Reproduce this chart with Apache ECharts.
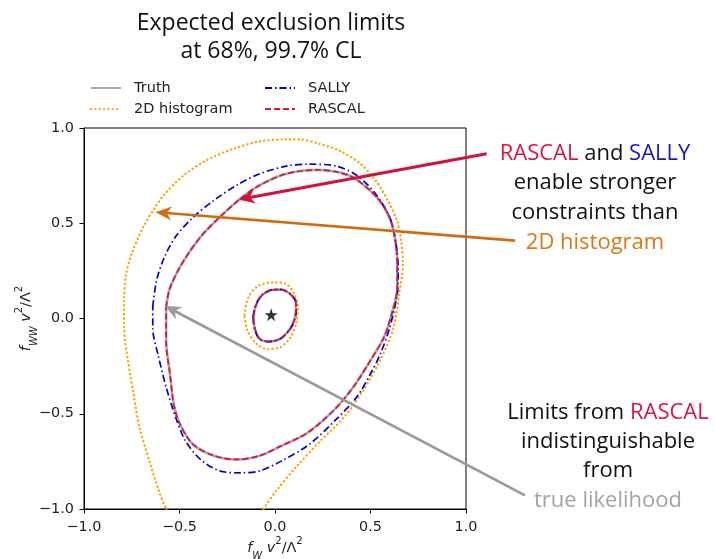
<!DOCTYPE html>
<html>
<head>
<meta charset="utf-8">
<script src="https://cdn.jsdelivr.net/npm/echarts@6/dist/echarts.min.js"></script>
<style>html,body{margin:0;padding:0;background:#fff}#c{width:715px;height:559px}</style>
</head>
<body>
<div id="c"></div>
<script>
// ---- data (x = f_W v^2/Λ^2, y = f_WW v^2/Λ^2) ----
const tickValues = [-1.0, -0.5, 0.0, 0.5, 1.0];
const legendNames = ['Truth', '2D histogram', 'SALLY', 'RASCAL'];

const truthOuter = [[-0.57,0.06],[-0.55,0.16],[-0.48,0.30],[-0.38,0.44],[-0.27,0.55],[-0.18,0.63],[-0.08,0.70],[0.06,0.76],[0.22,0.78],[0.32,0.77],[0.41,0.74],[0.53,0.64],[0.60,0.53],[0.63,0.41],[0.64,0.29],[0.64,0.16],[0.61,0.02],[0.57,-0.10],[0.50,-0.22],[0.41,-0.36],[0.31,-0.48],[0.17,-0.60],[0.03,-0.67],[-0.08,-0.72],[-0.20,-0.74],[-0.32,-0.72],[-0.43,-0.66],[-0.50,-0.55],[-0.53,-0.45],[-0.55,-0.29],[-0.57,-0.12],[-0.57,0.06]];
const truthInner = [[-0.113,0.007],[-0.10,0.068],[-0.07,0.12],[-0.026,0.147],[0.026,0.152],[0.079,0.129],[0.11,0.077],[0.105,0.007],[0.079,-0.054],[0.026,-0.107],[-0.035,-0.12],[-0.08,-0.107],[-0.105,-0.054],[-0.113,0.007]];

const rascalOuter = [[-0.57,0.06],[-0.55,0.16],[-0.48,0.30],[-0.38,0.44],[-0.27,0.55],[-0.18,0.63],[-0.08,0.70],[0.06,0.76],[0.22,0.78],[0.32,0.77],[0.41,0.74],[0.53,0.64],[0.60,0.53],[0.63,0.41],[0.64,0.29],[0.64,0.16],[0.61,0.02],[0.57,-0.10],[0.50,-0.22],[0.41,-0.36],[0.31,-0.48],[0.17,-0.60],[0.03,-0.67],[-0.08,-0.72],[-0.20,-0.74],[-0.32,-0.72],[-0.43,-0.66],[-0.50,-0.55],[-0.53,-0.45],[-0.55,-0.29],[-0.57,-0.12],[-0.57,0.06]];
const rascalInner = [[-0.113,0.007],[-0.10,0.068],[-0.07,0.12],[-0.026,0.147],[0.026,0.152],[0.079,0.129],[0.11,0.077],[0.105,0.007],[0.079,-0.054],[0.026,-0.107],[-0.035,-0.12],[-0.08,-0.107],[-0.105,-0.054],[-0.113,0.007]];

const sallyOuter = [[-0.64,0.06],[-0.62,0.20],[-0.58,0.32],[-0.52,0.43],[-0.43,0.53],[-0.32,0.62],[-0.20,0.70],[-0.08,0.76],[0.06,0.80],[0.18,0.81],[0.32,0.80],[0.43,0.75],[0.53,0.65],[0.605,0.52],[0.635,0.38],[0.645,0.25],[0.64,0.13],[0.60,-0.05],[0.55,-0.19],[0.50,-0.29],[0.43,-0.41],[0.32,-0.53],[0.18,-0.66],[0.03,-0.75],[-0.08,-0.80],[-0.18,-0.81],[-0.29,-0.80],[-0.39,-0.74],[-0.47,-0.64],[-0.52,-0.52],[-0.57,-0.36],[-0.61,-0.20],[-0.64,-0.05],[-0.64,0.06]];
const sallyInner = [[-0.115,0.007],[-0.102,0.068],[-0.072,0.12],[-0.027,0.148],[0.026,0.153],[0.08,0.130],[0.112,0.077],[0.107,0.007],[0.080,-0.055],[0.026,-0.108],[-0.036,-0.121],[-0.081,-0.108],[-0.107,-0.055],[-0.115,0.007]];

const histOuter = [[-0.08,-1.04],[-0.06,-1.0],[0.01,-0.90],[0.11,-0.78],[0.24,-0.64],[0.36,-0.52],[0.46,-0.38],[0.55,-0.22],[0.62,-0.05],[0.65,0.13],[0.67,0.29],[0.66,0.41],[0.64,0.51],[0.59,0.62],[0.53,0.72],[0.45,0.81],[0.34,0.88],[0.22,0.92],[0.13,0.94],[0.06,0.94],[-0.08,0.93],[-0.22,0.89],[-0.36,0.83],[-0.48,0.75],[-0.58,0.65],[-0.63,0.58],[-0.69,0.48],[-0.75,0.34],[-0.78,0.23],[-0.79,0.09],[-0.79,-0.05],[-0.77,-0.22],[-0.74,-0.40],[-0.71,-0.57],[-0.66,-0.74],[-0.61,-0.90],[-0.57,-1.0],[-0.55,-1.04]];
const histInner = [[-0.16,0.02],[-0.14,0.11],[-0.09,0.17],[-0.01,0.19],[0.06,0.18],[0.10,0.13],[0.12,0.06],[0.11,-0.03],[0.08,-0.10],[0.03,-0.15],[-0.04,-0.16],[-0.10,-0.13],[-0.145,-0.06],[-0.16,0.02]];

const bestFit = [[-0.02, 0.02]];

// annotation arrows: [tail, head] in data coordinates
const arrowRascal = [[1.108, 0.865], [-0.187, 0.625]];
const arrowHist = [[1.257, 0.409], [-0.623, 0.558]];
const arrowTruth = [[1.309, -0.929], [-0.574, 0.065]];

// ---- styles ----
const C_TRUTH = '#aaaaaa', C_HIST = '#ffa500', C_SALLY = '#0000cd', C_RASCAL = '#dc143c';
const annFont = '"Open Sans", "Noto Sans", sans-serif';
const mplFont = '"DejaVu Sans", sans-serif';
const TICK_FS = 14.4;

const chart = echarts.init(document.getElementById('c'), null, {renderer: 'canvas'});

function fmt(v) { return (v < 0 ? '\u2212' : '') + Math.abs(v).toFixed(1); }

function contour(name, data, color, width, type, z, cap) {
  return {
    name: name, type: 'line', data: data, symbol: 'none', showSymbol: false, smooth: 0.3,
    smoothMonotone: 'none', z: z, animation: false, clip: true,
    lineStyle: {color: color, width: width, type: type, cap: cap || 'butt'},
    itemStyle: {color: color}
  };
}

const axisCommon = {
  type: 'value', min: -1, max: 1, interval: 0.5,
  axisLine: {show: true, onZero: false, lineStyle: {color: '#000', width: 1}},
  axisTick: {show: true, inside: false, length: 4.5, lineStyle: {color: '#000', width: 1}},
  splitLine: {show: false},
  axisLabel: {formatter: fmt, color: '#222', fontFamily: mplFont, fontSize: TICK_FS, margin: 10},
  nameLocation: 'middle',
  nameMoveOverlap: false
};

const richName = {
  i: {fontFamily: mplFont, fontStyle: 'italic', fontSize: 14.4, color: '#222', lineHeight: 20},
  n: {fontFamily: mplFont, fontSize: 14.4, color: '#222', lineHeight: 20},
  s: {fontFamily: mplFont, fontStyle: 'italic', fontSize: 10, color: '#222', lineHeight: 20, verticalAlign: 'bottom', padding: [0,0,-3,0]},
  p: {fontFamily: mplFont, fontSize: 10, color: '#222', lineHeight: 20, verticalAlign: 'top', padding: [-2,0,0,0]}
};

function legendAt(name, left, top) {
  return {data: [name], left: left, top: top, padding: 0, orient: 'vertical', itemWidth: 30, itemHeight: 16, itemGap: 0,
    itemStyle: {opacity: 0, color: 'rgba(0,0,0,0)', borderWidth: 0},
    textStyle: {fontFamily: mplFont, fontSize: 14.5, lineHeight: 16, color: '#222', padding: [0,0,0,8]}, selectedMode: false};
}

const option = {
  backgroundColor: '#fff',
  animation: false,
  grid: {left: 84, top: 128, width: 382, height: 381, show: true, borderColor: '#000', borderWidth: 1,
         backgroundColor: 'transparent', containLabel: false, outerBoundsMode: 'none'},
  xAxis: Object.assign({}, axisCommon, {
    name: '{i|f}{s|W}{n| }{i|v}{p|2}{n|/Λ}{p|2}', nameGap: 29,
    axisLabel: Object.assign({}, axisCommon.axisLabel, {margin: 11}),
    nameTextStyle: {rich: richName}
  }),
  yAxis: Object.assign({}, axisCommon, {
    name: '{i|f}{s|WW}{n| }{i|v}{p|2}{n|/Λ}{p|2}', nameGap: 48, nameRotate: 90,
    nameTextStyle: {rich: richName}
  }),
  legend: [
    legendAt(legendNames[0], 90, 80),
    legendAt(legendNames[1], 90, 101),
    legendAt(legendNames[2], 264, 80),
    legendAt(legendNames[3], 264, 101)
  ],
  series: [
    contour('Truth', truthOuter, C_TRUTH, 2.6, 'solid', 2),
    contour('Truth', truthInner, C_TRUTH, 2.6, 'solid', 2),
    contour('2D histogram', histOuter, C_HIST, 2.2, [0.4, 3.9], 3, 'round'),
    contour('2D histogram', histInner, C_HIST, 2.2, [0.4, 3.9], 3, 'round'),
    contour('SALLY', sallyOuter, C_SALLY, 1.7, [7, 3, 1.5, 3], 4),
    contour('SALLY', sallyInner, C_SALLY, 1.7, [7, 3, 1.5, 3], 4),
    contour('RASCAL', rascalOuter, C_RASCAL, 1.7, [6, 3], 5),
    contour('RASCAL', rascalInner, C_RASCAL, 1.7, [6, 3], 5),
    {type: 'scatter', data: bestFit, symbol: 'path://M50,0 L61.8,35.4 L99,35.4 L69,57.3 L80.4,92.7 L50,70.8 L19.6,92.7 L31,57.3 L1,35.4 L38.2,35.4 Z',
     symbolSize: 13, itemStyle: {color: '#000'}, z: 10, animation: false}
  ],
  graphic: [
    {id: 'title', type: 'text', z: 100,
     style: {text: 'Expected exclusion limits\nat 68%, 99.7% CL', x: 271, y: 37.5, align: 'center', verticalAlign: 'middle',
              fontFamily: annFont, fontSize: 23, lineHeight: 27.5, fill: '#111'}},
    {id: 'ann1', type: 'text', z: 100,
     style: {text: '{r|RASCAL} and {b|SALLY}\nenable stronger\nconstraints than\n{o|2D histogram}', x: 595, y: 198,
             align: 'center', verticalAlign: 'middle', fontFamily: annFont, fontSize: 22, lineHeight: 29.6, fill: '#111',
             rich: {r: {fill: '#d8173f', fontFamily: annFont, fontSize: 22, lineHeight: 29.6},
                    b: {fill: '#1717c8', fontFamily: annFont, fontSize: 22, lineHeight: 29.6},
                    o: {fill: '#db7812', fontFamily: annFont, fontSize: 22, lineHeight: 29.6}}}},
    {id: 'ann2', type: 'text', z: 100,
     style: {text: 'Limits from {r|RASCAL}\nindistinguishable\nfrom\n{g|true likelihood}', x: 608, y: 456.5,
             align: 'center', verticalAlign: 'middle', fontFamily: annFont, fontSize: 22, lineHeight: 29.3, fill: '#111',
             rich: {r: {fill: '#d8173f', fontFamily: annFont, fontSize: 22, lineHeight: 29.3},
                    g: {fill: '#a3a3a3', fontFamily: annFont, fontSize: 22, lineHeight: 29.3}}}}
  ]
};
chart.setOption(option);

function arrowEls(id, pts, color, w, hl, hw) {
  const p0 = chart.convertToPixel({gridIndex: 0}, pts[0]);
  const p1 = chart.convertToPixel({gridIndex: 0}, pts[1]);
  const dx = p1[0] - p0[0], dy = p1[1] - p0[1];
  const L = Math.hypot(dx, dy), ux = dx / L, uy = dy / L, nx = -uy, ny = ux;
  const bx = p1[0] - ux * hl, by = p1[1] - uy * hl;
  const ix = p1[0] - ux * hl * 0.7, iy = p1[1] - uy * hl * 0.7;
  return [
    {id: id + 'L', type: 'line', z: 50, shape: {x1: p0[0], y1: p0[1], x2: ix, y2: iy},
     style: {stroke: color, lineWidth: w, lineCap: 'butt'}},
    {id: id + 'H', type: 'polygon', z: 50,
     shape: {points: [[p1[0], p1[1]], [bx + nx * hw, by + ny * hw], [ix, iy], [bx - nx * hw, by - ny * hw]]},
     style: {fill: color, stroke: color, lineWidth: 0.5}}
  ];
}
chart.setOption({graphic: [].concat(
  arrowEls('aR', arrowRascal, '#d3123c', 3, 15, 6.5),
  arrowEls('aH', arrowHist, '#d46a10', 2.6, 15, 6.5),
  arrowEls('aT', arrowTruth, '#9a9a9a', 2.6, 15, 6.5)
)});
</script>
</body>
</html>
